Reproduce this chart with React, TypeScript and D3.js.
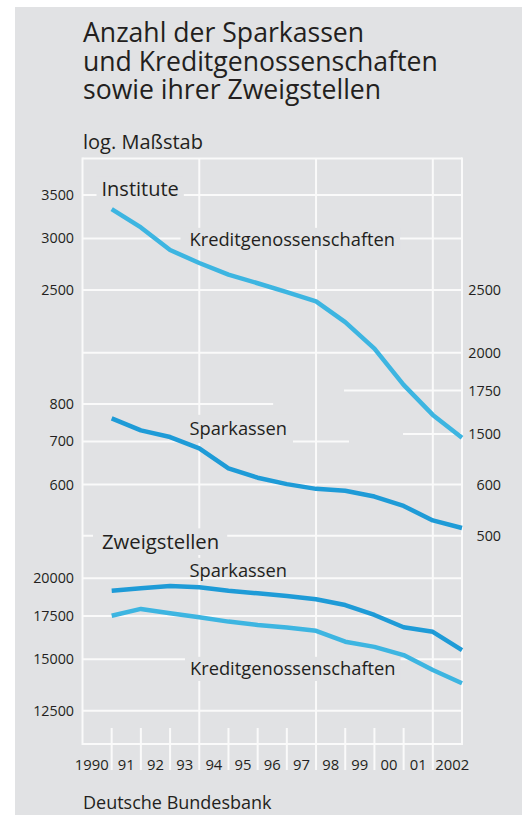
import React, { useEffect, useRef } from "react";
import * as d3 from "d3";

// ---------- data ----------
const years = [1990, 1991, 1992, 1993, 1994, 1995, 1996, 1997, 1998, 1999, 2000, 2001, 2002];
const yearLabels = ["1990", "91", "92", "93", "94", "95", "96", "97", "98", "99", "00", "01", "2002"];

// Institute (number of institutions)
const kgInstitute = [3330, 3120, 2880, 2750, 2640, 2560, 2480, 2400, 2230, 2030, 1785, 1605, 1480];
const spkInstitute = [760, 728, 711, 683, 636, 615, 601, 591, 587, 575, 556, 528, 514];
// Zweigstellen (branches)
const spkBranches = [19140, 19300, 19460, 19380, 19140, 18960, 18780, 18565, 18190, 17560, 16810, 16540, 15500];
const kgBranches = [17510, 17940, 17665, 17420, 17150, 16950, 16800, 16600, 15970, 15680, 15230, 14440, 13780];

// tick labels
const instLeftTicks = [3500, 3000, 2500];
const instRightTicks = [2500, 2000, 1750, 1500];
const spkLeftTicks = [800, 700, 600];
const spkRightTicks = [600, 500];
const brLeftTicks = [20000, 17500, 15000, 12500];

const FONT = "'Open Sans', 'Noto Sans', sans-serif";
const TEXT = "#231f20";
const BG = "#e1e2e4";
const GRID = "#fafafa";
const C_KG = "#3db5e1";
const C_SPK = "#1e9bd7";

export default function App() {
  const ref = useRef<SVGSVGElement>(null);

  useEffect(() => {
    const svg = d3.select(ref.current);
    svg.selectAll("*").remove();

    const left = 82.5, right = 462, top = 158.5, bottom = 744;
    const x = d3.scaleLinear().domain([1990, 2003]).range([left, right]);

    const yInst = d3.scaleLog().domain([1500, 3500]).range([434, 195]);
    const ySpk = d3.scaleLog().domain([500, 800]).range([535.7, 404]);
    const yBr = d3.scaleLog().domain([12500, 20000]).range([710.7, 578.3]);

    svg.append("rect").attr("x", 15).attr("y", 7).attr("width", 507).attr("height", 808).attr("fill", BG);

    // title
    const title = ["Anzahl der Sparkassen", "und Kreditgenossenschaften", "sowie ihrer Zweigstellen"];
    svg.selectAll("text.title").data(title).join("text")
      .attr("class", "title")
      .attr("x", 83).attr("y", (_, i) => 42 + i * 28.7)
      .attr("font-family", FONT).attr("font-size", 26.6).attr("fill", TEXT)
      .text((d) => d);

    svg.append("text").attr("x", 83).attr("y", 148.5)
      .attr("font-family", FONT).attr("font-size", 20).attr("fill", TEXT).text("log. Maßstab");

    svg.append("text").attr("x", 83).attr("y", 809)
      .attr("font-family", FONT).attr("font-size", 18).attr("fill", TEXT).text("Deutsche Bundesbank");

    const grid = svg.append("g").attr("stroke", GRID).attr("stroke-width", 2).attr("fill", "none");

    // horizontal gridlines [scale, value, fromYear, toYear]
    const hLines: [any, number, number, number][] = [
      [yInst, 3500, 1990, 2003],
      [yInst, 3000, 1990, 2003],
      [yInst, 2500, 1990, 2003],
      [yInst, 2000, 1990, 2003],
      [yInst, 1750, 1998.96, 2003],
      [yInst, 1500, 2000.98, 2003],
      [ySpk, 800, 1990, 1996.53],
      [ySpk, 700, 1990, 1999.13],
      [ySpk, 600, 1990, 2003],
      [ySpk, 500, 1990, 2003],
      [yBr, 20000, 1990, 2003],
      [yBr, 17500, 1990, 2003],
      [yBr, 15000, 1990, 2003],
      [yBr, 12500, 1990, 2003],
    ];
    hLines.forEach(([s, v, a, b]) => {
      grid.append("line").attr("x1", x(a)).attr("x2", x(b)).attr("y1", s(v)).attr("y2", s(v));
    });
    // frame
    grid.append("line").attr("x1", left).attr("x2", right).attr("y1", top).attr("y2", top);
    grid.append("line").attr("x1", left).attr("x2", right).attr("y1", bottom).attr("y2", bottom);
    grid.append("line").attr("x1", left).attr("x2", left).attr("y1", top - 1).attr("y2", bottom + 1);
    grid.append("line").attr("x1", right).attr("x2", right).attr("y1", top - 1).attr("y2", bottom + 1);
    // vertical major gridlines
    [1994, 1998, 2002].forEach((yr) => {
      grid.append("line").attr("x1", x(yr)).attr("x2", x(yr)).attr("y1", top).attr("y2", 770);
    });
    // minor ticks
    d3.range(1991, 2003).filter((yr) => ![1994, 1998, 2002].includes(yr)).forEach((yr) => {
      grid.append("line").attr("x1", x(yr)).attr("x2", x(yr)).attr("y1", 728).attr("y2", 770);
    });

    // year labels (centered in the year interval)
    svg.selectAll("text.xl").data(years).join("text")
      .attr("class", "xl")
      .attr("x", (d, i) => (i === 0 ? x(d + 1) - 3 : i === years.length - 1 ? x(d) + 2.5 : x(d + 0.5)))
      .attr("y", 770)
      .attr("text-anchor", (_, i) => (i === 0 ? "end" : i === years.length - 1 ? "start" : "middle"))
      .attr("font-family", FONT).attr("font-size", 14.8).attr("fill", TEXT)
      .text((_, i) => yearLabels[i]);

    // y tick labels
    const fmt = (v: number) => String(v);
    const addTicks = (s: any, vals: number[], xp: number) => {
      vals.forEach((v) => {
        svg.append("text").attr("x", xp).attr("y", s(v) + 5)
          .attr("text-anchor", "end").attr("font-family", FONT).attr("font-size", 14.3).attr("fill", TEXT)
          .text(fmt(v));
      });
    };
    addTicks(yInst, instLeftTicks, 74);
    addTicks(ySpk, spkLeftTicks, 74);
    addTicks(yBr, brLeftTicks, 74);
    addTicks(yInst, instRightTicks, 501);
    addTicks(ySpk, spkRightTicks, 501);

    // labels with background boxes
    const labels = [
      { t: "Institute", x: 101.5, y: 196, fs: 20, pt: 5, pb: 5, pl: 5, pr: 5 },
      { t: "Kreditgenossenschaften", x: 189.5, y: 246, fs: 18.3, pt: 5, pb: 4, pl: 9, pr: 5 },
      { t: "Sparkassen", x: 189.5, y: 435, fs: 18.3, pt: 7, pb: 8, pl: 6, pr: 6 },
      { t: "Zweigstellen", x: 102, y: 549, fs: 20.3, pt: 6, pb: 6, pl: 9, pr: 8 },
      { t: "Sparkassen", x: 189.5, y: 577, fs: 18.3, pt: 6, pb: 0, pl: 6, pr: 6 },
      { t: "Kreditgenossenschaften", x: 190, y: 675, fs: 18.3, pt: 5, pb: 6, pl: 5, pr: 5 },
    ];
    const lg = svg.append("g");
    labels.forEach((l) => {
      const r = lg.append("rect").attr("fill", BG);
      const tx = lg.append("text").attr("x", l.x).attr("y", l.y)
        .attr("font-family", FONT).attr("font-size", l.fs).attr("fill", TEXT).text(l.t);
      const w = (tx.node() as SVGTextElement).getComputedTextLength();
      const capTop = l.y - l.fs * 0.72;
      r.attr("x", l.x - l.pl).attr("width", w + l.pl + l.pr)
        .attr("y", capTop - l.pt).attr("height", l.y - capTop + l.pt + l.pb);
    });

    // series lines
    const series: [number[], any, string][] = [
      [kgInstitute, yInst, C_KG],
      [spkInstitute, ySpk, C_SPK],
      [spkBranches, yBr, C_SPK],
      [kgBranches, yBr, C_KG],
    ];
    series.forEach(([vals, s, c]) => {
      const line = d3.line<number>().x((_, i) => x(years[i] + 1)).y((v) => s(v));
      svg.append("path").attr("d", line(vals) as string)
        .attr("fill", "none").attr("stroke", c).attr("stroke-width", 4.5)
        .attr("stroke-linejoin", "round").attr("stroke-linecap", "butt");
    });
  }, []);

  return <svg ref={ref} width={522} height={815} style={{ position: "absolute", left: 0, top: 0 }} />;
}
